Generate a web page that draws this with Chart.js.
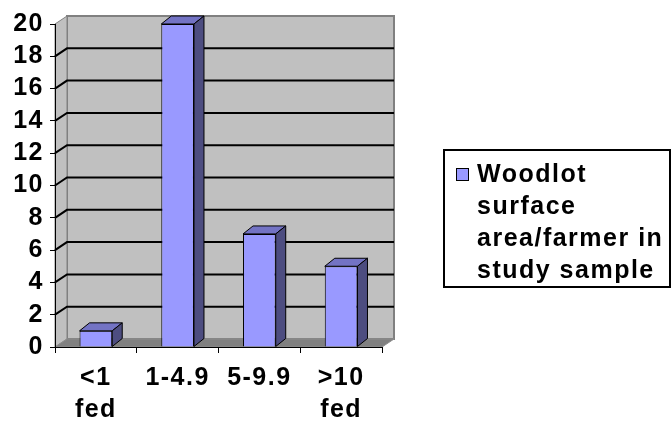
<!DOCTYPE html>
<html>
<head>
<meta charset="utf-8">
<script src="https://cdn.jsdelivr.net/npm/chart.js@4"></script>
<style>
  body { margin: 0; background: #fff; }
  #wrap { position: relative; width: 672px; height: 423px; }
  #graph { position: absolute; left: 0; top: 0; }
  #legend {
    position: absolute; left: 443px; top: 149px; width: 224px; height: 135px;
    border: 2px solid #000; box-sizing: content-box;
    font: bold 25px "Liberation Sans", Arial, sans-serif; letter-spacing: 1.5px;
    line-height: 32px; color: #000;
  }
  #legend .box {
    position: absolute; left: 11px; top: 17px; width: 11px; height: 11px;
    background: #9999ff; border: 1px solid #000;
  }
  #legend .txt { position: absolute; left: 32px; top: 6px; white-space: nowrap; }
</style>
</head>
<body>
<div id="wrap">
  <canvas id="graph" width="672" height="423"></canvas>
  <div id="legend"><div class="box"></div><div class="txt">Woodlot<br>surface<br>area/farmer in<br>study sample</div></div>
</div>
<script>
const categories = [["<1", "fed"], "1-4.9", "5-9.9", [">10", "fed"]];
const valeurs = [1, 20, 7, 5];
const serie = "Woodlot surface area/farmer in study sample";

// profondeur du "3D" facon Excel
const DX = 12, DY = -8;
const BDX = 10, BDY = -8;

function poly(ctx, pts, fill, stroke, lw) {
  ctx.beginPath();
  ctx.moveTo(pts[0][0], pts[0][1]);
  for (let i = 1; i < pts.length; i++) ctx.lineTo(pts[i][0], pts[i][1]);
  ctx.closePath();
  if (fill) { ctx.fillStyle = fill; ctx.fill(); }
  if (stroke) { ctx.strokeStyle = stroke; ctx.lineWidth = lw || 1; ctx.stroke(); }
}

const murs = {
  id: "murs",
  beforeDraw(chart) {
    const ctx = chart.ctx;
    const { left, right, top, bottom } = chart.chartArea;
    const y = chart.scales.y;
    ctx.save();
    // mur du fond
    poly(ctx, [[left + DX, top + DY], [right + DX, top + DY], [right + DX, bottom + DY], [left + DX, bottom + DY]], "#c0c0c0", "#808080", 2);
    // mur de gauche
    poly(ctx, [[left, bottom], [left, top], [left + DX, top + DY], [left + DX, bottom + DY]], "#c0c0c0", "#808080", 1);
    // sol
    poly(ctx, [[left, bottom], [right, bottom], [right + DX, bottom + DY], [left + DX, bottom + DY]], "#808080", "#8c8c8c", 1);
    // quadrillage
    ctx.strokeStyle = "#000";
    ctx.lineWidth = 2;
    y.ticks.forEach(t => {
      if (t.value === 0 || t.value === 20) return;
      const py = y.getPixelForValue(t.value);
      ctx.beginPath();
      ctx.moveTo(left, py);
      ctx.lineTo(left + DX, py + DY);
      ctx.lineTo(right + DX, py + DY);
      ctx.stroke();
    });
    ctx.restore();
    ctx.letterSpacing = "1.5px";
  },
  afterDatasetsDraw(chart) {
    const ctx = chart.ctx;
    ctx.save();
    chart.getDatasetMeta(0).data.forEach(bar => {
      const l = bar.x - bar.width / 2, r = bar.x + bar.width / 2;
      poly(ctx, [[l, bar.y], [r, bar.y], [r + BDX, bar.y + BDY], [l + BDX, bar.y + BDY]], "#7373c4", "#000", 1);
      poly(ctx, [[r, bar.y], [r + BDX, bar.y + BDY], [r + BDX, bar.base + BDY], [r, bar.base]], "#4d4d80", "#000", 1);
    });
    ctx.restore();
  }
};

const police = { family: '"Liberation Sans", Arial, sans-serif', size: 25, weight: "bold", lineHeight: 1.28 };

new Chart(document.getElementById("graph").getContext("2d"), {
  type: "bar",
  data: {
    labels: categories,
    datasets: [{
      label: serie,
      data: valeurs,
      backgroundColor: "#9999ff",
      borderColor: "#000",
      borderWidth: 1,
      barPercentage: 0.4,
      categoryPercentage: 1
    }]
  },
  options: {
    responsive: false,
    devicePixelRatio: 1,
    animation: false,
    layout: { padding: { top: 24, right: 290, left: 0, bottom: 0 } },
    plugins: { legend: { display: false }, tooltip: { enabled: false } },
    scales: {
      x: {
        afterFit: s => { s.height = 76; },
        grid: { drawOnChartArea: false, drawTicks: true, tickLength: 6, color: "#000", offset: true },
        border: { color: "#000", width: 1 },
        ticks: { color: "#000", font: police, padding: 9, maxRotation: 0, autoSkip: false }
      },
      y: {
        min: 0,
        max: 20,
        afterFit: s => { s.width = 55; },
        grid: { drawOnChartArea: false, drawTicks: true, tickLength: 5, color: "#000" },
        border: { color: "#000", width: 1 },
        ticks: { stepSize: 2, color: "#000", font: police, padding: 6, autoSkip: false }
      }
    }
  },
  plugins: [murs]
});
</script>
</body>
</html>
